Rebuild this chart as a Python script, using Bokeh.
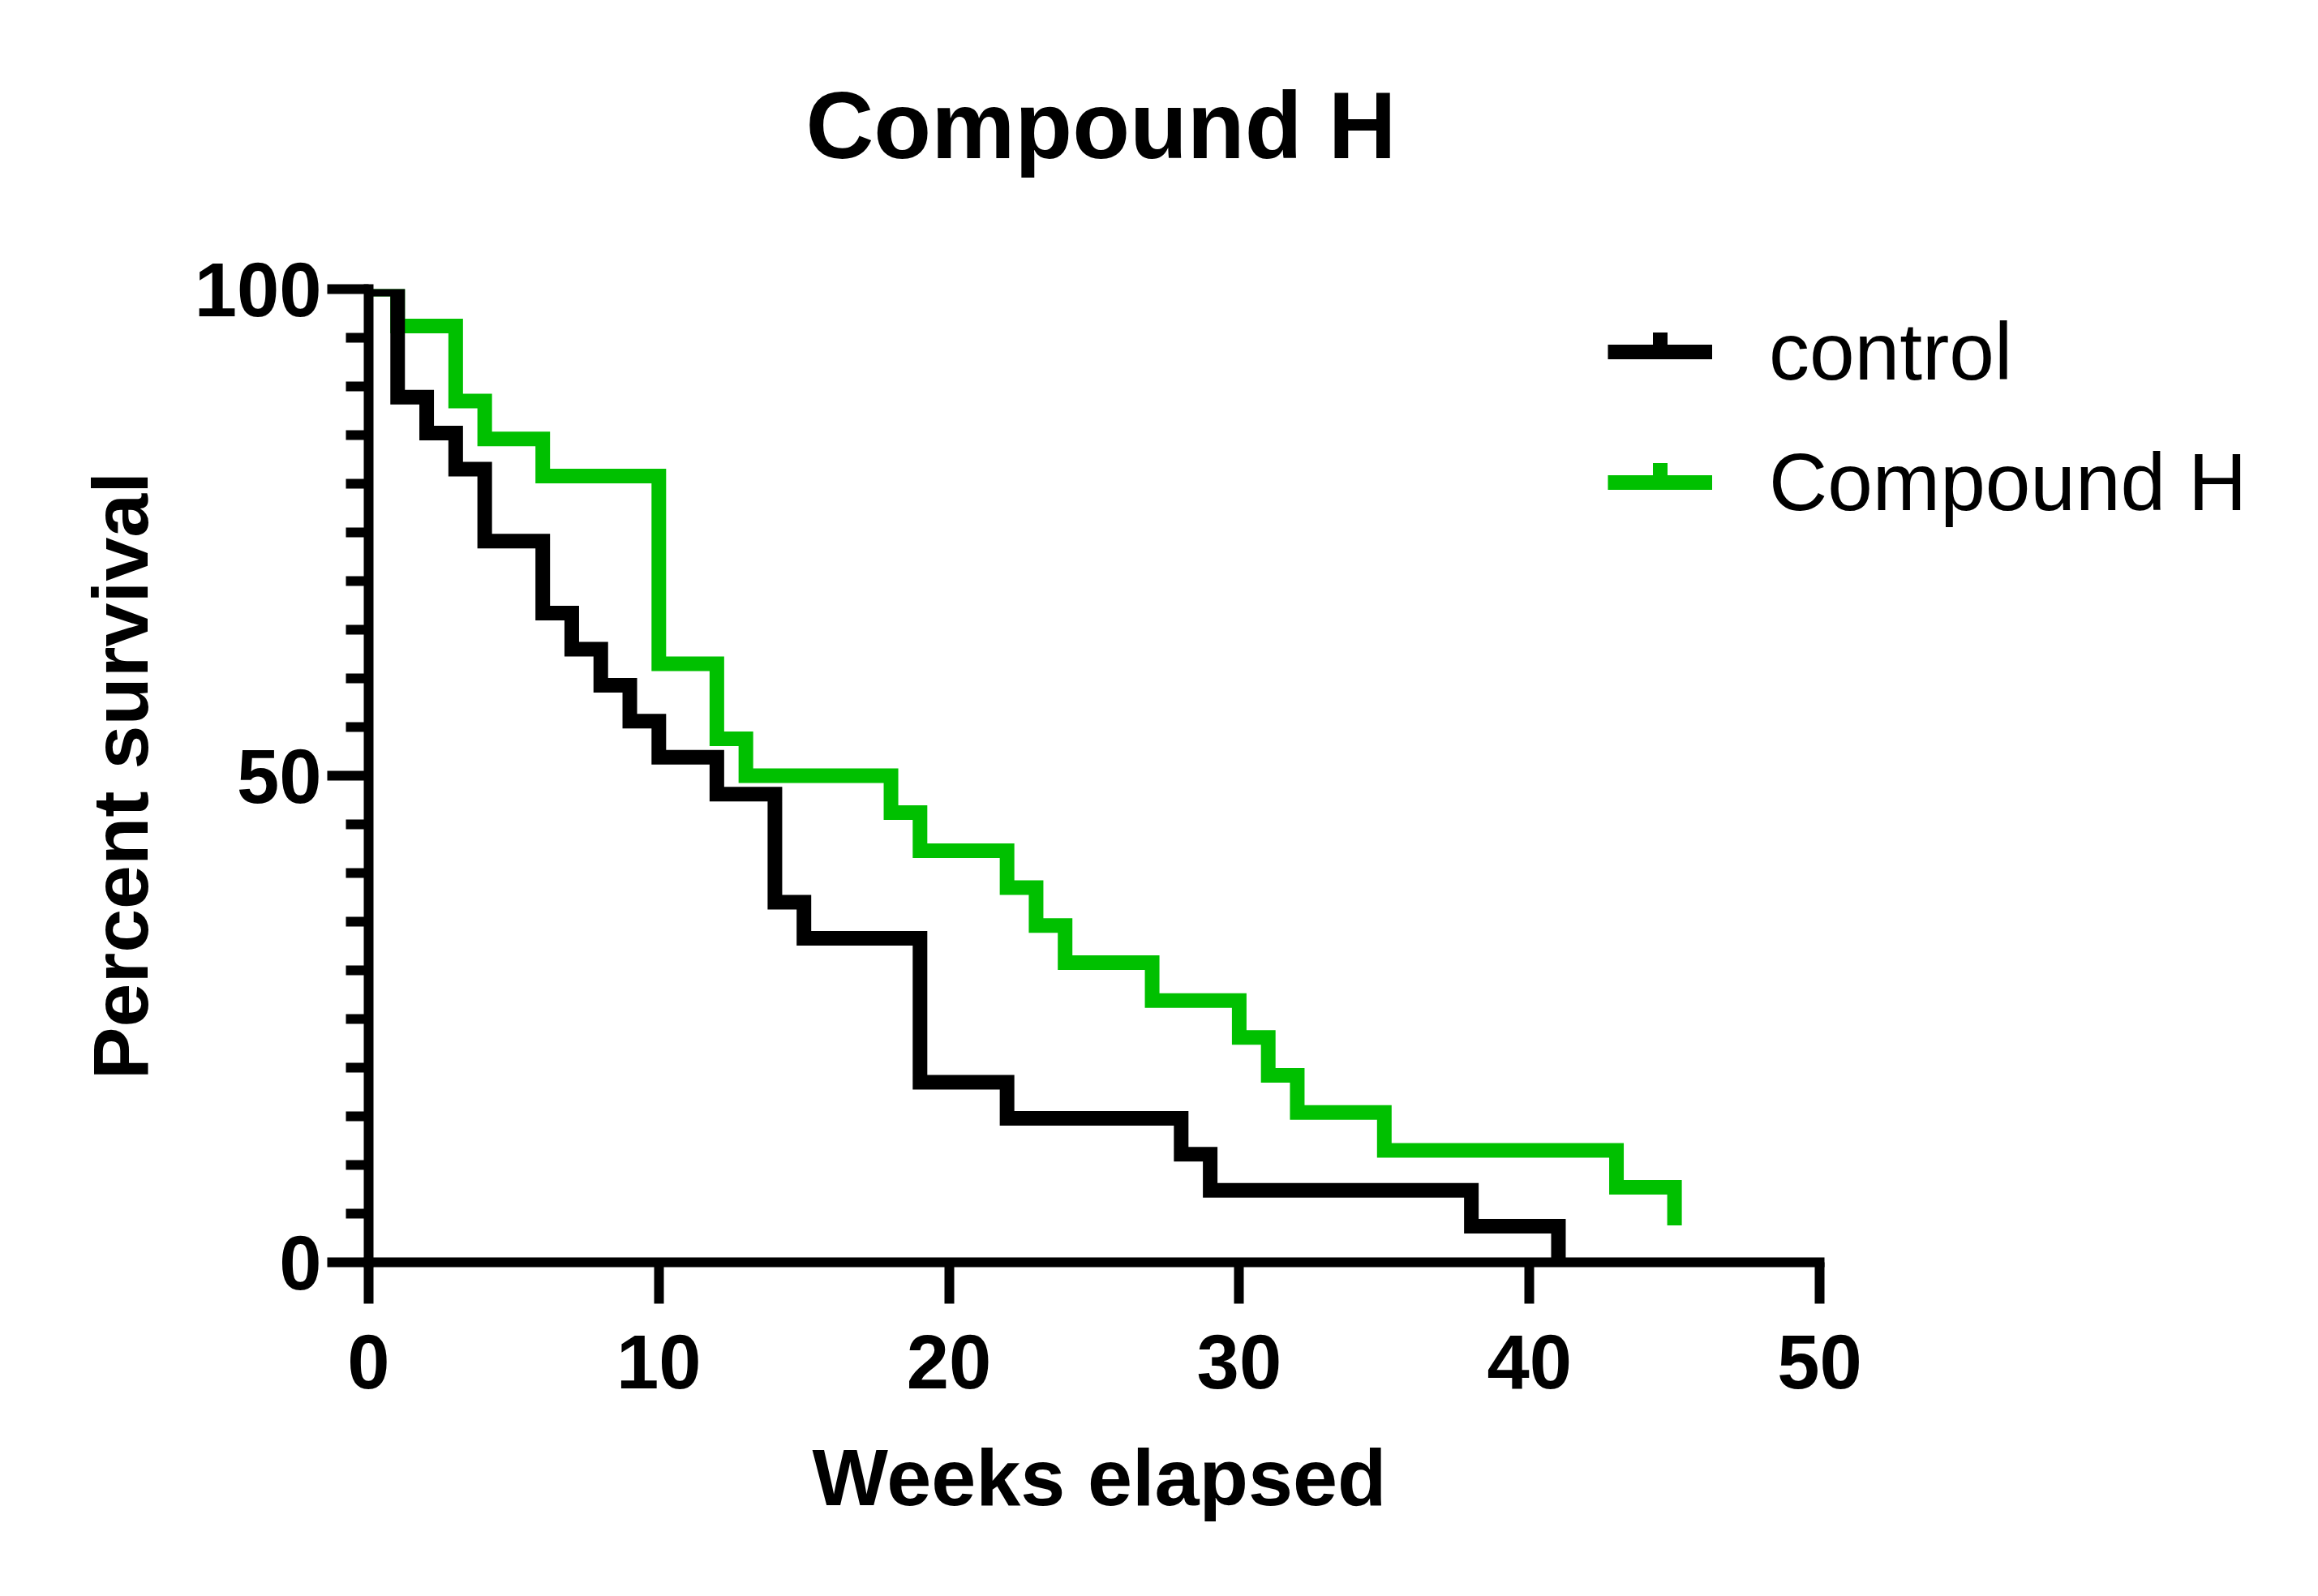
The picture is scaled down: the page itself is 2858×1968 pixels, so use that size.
from bokeh.plotting import figure
from bokeh.models import FixedTicker, Legend, LegendItem, Range1d, Title
from bokeh.embed import file_html
from bokeh.resources import INLINE

# ---- data ----
control_weeks = [0, 1, 2, 3, 4, 6, 7, 8, 9, 10, 12, 14, 15, 19, 22, 28, 29, 38, 41]
control_survival = [100, 88.9, 85.2, 81.5, 74.1, 66.7, 63.0, 59.3, 55.6, 51.9,
                    48.1, 37.0, 33.3, 18.5, 14.8, 11.1, 7.4, 3.7, 0]
compound_weeks = [0, 1, 3, 4, 6, 10, 12, 13, 18, 19, 22, 23, 24, 27, 30, 31, 32, 35, 43, 45]
compound_survival = [100, 96.2, 88.5, 84.6, 80.8, 61.5, 53.8, 50.0, 46.2, 42.3,
                     38.5, 34.6, 30.8, 26.9, 23.1, 19.2, 15.4, 11.5, 7.7, 3.8]
series_names = ["control", "Compound H"]
x_ticks = [0, 10, 20, 30, 40, 50]
y_ticks = [0, 50, 100]
y_minor_ticks = [5, 10, 15, 20, 25, 30, 35, 40, 45, 55, 60, 65, 70, 75, 80, 85, 90, 95]
title_text = "Compound H"
x_label = "Weeks elapsed"
y_label = "Percent survival"

FONT = "Liberation Sans"
BLACK = "#000000"
GREEN = "#00C000"

W = 2840
LEFT, TOP, RIGHT, BOTTOM = 454, 356, 20, 394
AXIS_PX = 1789          # pixel length of the 0..50 week axis
FRAME_H = 1200
frame_w = W - LEFT - RIGHT
x_end = 50 * frame_w / AXIS_PX   # extra room on the right for the legend

p = figure(frame_width=frame_w, frame_height=FRAME_H,
           output_backend="svg", toolbar_location=None,
           x_range=Range1d(0, x_end), y_range=Range1d(0, 100),
           min_border_left=LEFT, min_border_right=RIGHT,
           min_border_top=TOP, min_border_bottom=BOTTOM)

p.title.text = title_text
p.title.text_font = FONT
p.title.text_font_size = "116px"
p.title.text_font_style = "bold"
p.title.text_color = BLACK
p.title.align = "left"
p.title.vertical_align = "bottom"
p.title.offset = 539
p.title.standoff = 0
p.title.padding = dict(left=0, right=0, top=0, bottom=137)

p.grid.visible = False
p.outline_line_color = None
p.background_fill_color = "white"
p.border_fill_color = "white"

# survival steps
g = p.step(compound_weeks, compound_survival, mode="after", line_color=GREEN,
           line_width=18, line_join="miter", line_cap="butt")
b = p.step(control_weeks, control_survival, mode="after", line_color=BLACK,
           line_width=18, line_join="miter", line_cap="butt")

# hidden marker renderers, used only to draw the small tick on the legend keys
b_tick = p.scatter(control_weeks, control_survival, marker="dash",
                   size=18, line_color=BLACK, line_width=24, visible=False)
g_tick = p.scatter(compound_weeks, compound_survival, marker="dash",
                   size=18, line_color=GREEN, line_width=24, visible=False)

# axes
for ax in (p.xaxis[0], p.yaxis[0]):
    ax.axis_line_width = 12
    ax.axis_line_color = BLACK
    ax.axis_line_cap = "square"
    ax.major_tick_line_width = 12
    ax.major_tick_line_color = BLACK
    ax.major_tick_in = 0
    ax.major_tick_out = 51
    ax.major_label_text_font = FONT
    ax.major_label_text_font_size = "94px"
    ax.major_label_text_font_style = "bold"
    ax.major_label_text_color = BLACK
    ax.axis_label_text_font = FONT
    ax.axis_label_text_font_style = "bold"
    ax.axis_label_text_color = BLACK

p.xaxis[0].bounds = (0, 50)
p.xaxis[0].ticker = FixedTicker(ticks=x_ticks)
p.xaxis[0].minor_tick_line_color = None
p.xaxis[0].major_label_standoff = 38

# x-axis title, centred under the 0..50 axis rather than the wider frame
p.add_layout(Title(text=x_label, text_font=FONT, text_font_size="99px",
                   text_font_style="bold", text_color=BLACK,
                   align="left", vertical_align="top",
                   offset=547, standoff=0,
                   padding=dict(left=0, right=0, top=51, bottom=0)), "below")

p.yaxis[0].ticker = FixedTicker(ticks=y_ticks, minor_ticks=y_minor_ticks)
p.yaxis[0].minor_tick_line_width = 12
p.yaxis[0].minor_tick_line_color = BLACK
p.yaxis[0].minor_tick_in = 0
p.yaxis[0].minor_tick_out = 28
p.yaxis[0].major_label_standoff = 7
p.yaxis[0].axis_label = y_label
p.yaxis[0].axis_label_text_font_size = "97px"
p.yaxis[0].axis_label_standoff = 34

legend = Legend(items=[LegendItem(label=series_names[0], renderers=[b]),
                       LegendItem(label=series_names[1], renderers=[g])],
                location=(1528, FRAME_H - 322 + 3), orientation="vertical",
                padding=0, margin=0, spacing=0,
                glyph_width=129, glyph_height=161, label_height=161,
                label_standoff=70,
                label_text_font=FONT, label_text_font_size="100px",
                label_text_color=BLACK,
                border_line_color=None, background_fill_alpha=0)
p.add_layout(legend, "center")

# small upward tick on each legend key
tick_legend = Legend(items=[LegendItem(label="", renderers=[b_tick]),
                            LegendItem(label="", renderers=[g_tick])],
                     location=(1570, FRAME_H - 322 + 15), orientation="vertical",
                     padding=0, margin=0, spacing=0,
                     glyph_width=45, glyph_height=161, label_height=161,
                     label_width=0, label_standoff=0,
                     label_text_font_size="1px",
                     border_line_color=None, background_fill_alpha=0,
                     inactive_fill_alpha=0)
p.add_layout(tick_legend, "center")

open("out.html", "w").write(file_html(p, INLINE))
